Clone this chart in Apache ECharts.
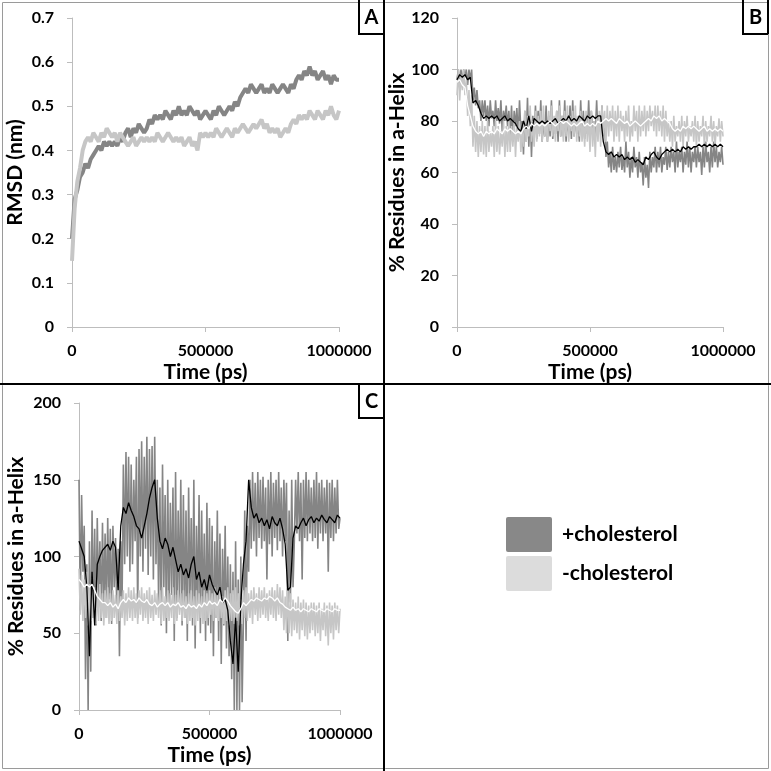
<!DOCTYPE html>
<html><head><meta charset="utf-8">
<script src="https://cdn.jsdelivr.net/npm/echarts@6/dist/echarts.min.js"></script>
<style>html,body{margin:0;padding:0;background:#fff}#c{width:771px;height:771px}</style>
</head><body><div id="c"></div>
<script>
// sampling intervals (ps): raw helicity traces / running averages & RMSD
const rawStep = 5000;
const avgStep = 10000;
const xTicks = [0, 500000, 1000000];

// Panel A: RMSD (nm)
const aPlus = [0.20,0.29,0.31,0.34,0.35,0.37,0.36,0.38,0.39,0.40,
0.41,0.40,0.42,0.41,0.42,0.41,0.42,0.41,0.43,0.42,
0.44,0.45,0.43,0.45,0.44,0.46,0.45,0.44,0.45,0.47,
0.46,0.48,0.47,0.48,0.47,0.49,0.48,0.47,0.49,0.48,
0.50,0.48,0.49,0.48,0.50,0.49,0.48,0.49,0.47,0.48,
0.49,0.48,0.47,0.49,0.48,0.50,0.49,0.48,0.49,0.50,
0.49,0.51,0.50,0.52,0.53,0.54,0.53,0.55,0.54,0.53,
0.54,0.55,0.53,0.54,0.53,0.55,0.54,0.53,0.54,0.55,
0.54,0.53,0.55,0.54,0.56,0.57,0.56,0.58,0.57,0.59,
0.57,0.58,0.56,0.57,0.58,0.56,0.57,0.55,0.57,0.56,0.56];
const aMinus = [0.15,0.27,0.33,0.36,0.40,0.42,0.43,0.42,0.44,0.43,
0.42,0.44,0.43,0.45,0.44,0.43,0.44,0.42,0.44,0.43,
0.42,0.41,0.42,0.43,0.41,0.42,0.43,0.42,0.43,0.42,
0.43,0.42,0.44,0.43,0.42,0.43,0.44,0.43,0.42,0.43,
0.42,0.43,0.41,0.42,0.43,0.41,0.42,0.40,0.44,0.43,
0.44,0.43,0.44,0.43,0.45,0.44,0.43,0.44,0.45,0.44,
0.43,0.45,0.44,0.45,0.46,0.45,0.44,0.45,0.46,0.45,
0.46,0.47,0.45,0.46,0.44,0.45,0.44,0.45,0.43,0.44,
0.45,0.44,0.46,0.47,0.46,0.48,0.47,0.48,0.47,0.49,
0.48,0.47,0.49,0.48,0.47,0.49,0.48,0.50,0.48,0.47,0.49];

// Panel B: % residues in a-helix (raw, every 5000 ps)
const bPlus = [96,100,94,100,95,100,97,100,94,100,96,100,88,93,86,92,85,88,80,88,
82,88,80,86,78,88,81,84,78,88,80,85,79,88,76,84,80,86,78,84,
74,86,72,84,78,85,74,88,76,80,67,84,72,89,70,84,66,82,74,86,
73,84,75,88,72,80,74,86,72,82,74,88,73,80,75,84,72,88,74,82,
74,88,72,80,76,86,73,88,74,82,75,80,72,88,74,84,73,82,75,88,
74,84,76,80,75,88,74,82,76,86,77,80,66,72,62,68,60,70,61,66,
60,68,62,70,61,66,60,72,62,68,58,66,60,70,62,66,58,68,60,64,
55,66,58,63,54,68,60,66,62,70,60,68,62,70,60,66,63,70,61,68,
62,70,64,68,60,72,62,68,64,70,60,68,63,72,62,70,60,68,64,70,
62,70,64,68,59,70,62,72,64,68,60,70,62,72,64,70,62,68,64,70,63];
const bMinus = [90,100,88,98,92,100,90,96,82,92,78,90,70,82,68,80,66,78,68,80,
67,78,66,80,68,76,70,78,66,80,68,78,67,76,70,80,66,78,68,80,
68,78,70,80,66,78,72,80,68,76,70,84,72,82,74,86,72,80,70,84,
72,82,74,84,72,86,74,80,72,84,76,86,74,82,72,84,76,86,74,82,
72,84,74,86,72,82,76,84,74,86,72,82,74,84,72,80,70,84,72,82,
68,84,70,80,66,82,72,84,70,86,74,84,72,86,74,84,76,86,72,84,
74,86,72,84,76,82,72,84,74,86,72,80,74,86,76,84,72,86,74,84,
76,86,74,84,76,86,78,84,76,86,74,86,76,84,74,86,72,84,74,80,
72,80,70,82,72,78,74,80,72,82,70,80,74,82,72,78,74,80,72,82,
70,80,72,78,74,82,70,80,72,78,74,82,72,80,70,78,74,81,72,80,74];
// running averages, every 10000 ps
const bPlusAvg = [96,98,97,98,96,97,87,88,86,83,
81,82,81,82,81,82,80,81,82,80,
81,80,79,77,76,80,77,82,76,81,
80,79,80,79,80,79,80,81,79,80,
81,80,82,80,81,80,82,81,80,82,
81,82,81,82,82,72,68,67,68,66,
67,66,67,65,66,65,66,64,65,64,
63,66,65,67,68,66,65,67,68,69,
68,69,68,69,68,70,69,70,69,70,
70,71,70,71,70,71,70,71,70,71,70];
const bMinusAvg = [95,96,94,93,86,82,78,76,75,76,
74,76,75,76,75,77,76,75,77,76,
77,76,75,76,75,77,78,77,79,78,
79,78,79,78,79,80,79,78,79,80,
79,80,79,78,79,78,79,80,78,79,
78,79,78,80,79,80,81,80,81,80,
79,81,80,79,80,78,79,80,79,78,
79,80,81,80,82,81,82,80,81,80,
79,77,76,77,76,78,77,78,77,78,
77,76,77,78,76,77,76,77,76,77,76];

// Panel C: % residues in a-helix (raw, every 5000 ps)
const cPlus = [150,65,140,90,120,20,95,0,110,25,130,60,118,55,125,70,110,58,122,65,
115,60,125,72,118,56,120,80,112,62,105,35,110,70,160,95,168,100,165,90,
160,95,150,110,165,60,170,100,175,90,165,105,178,88,170,100,172,85,178,95,
150,70,145,55,160,80,140,50,150,65,135,75,145,45,155,60,130,70,150,55,
140,60,130,45,145,70,125,55,150,40,120,65,140,50,130,60,115,45,135,55,
125,50,120,35,110,60,130,45,115,30,105,55,120,40,100,35,95,20,90,0,
110,0,85,0,100,5,60,130,45,120,90,150,105,155,110,148,100,155,112,150,
105,152,110,145,85,150,108,155,100,148,112,150,104,155,110,145,100,150,110,148,
45,130,70,150,80,110,150,115,155,110,148,85,150,112,155,110,150,115,145,110,
150,112,155,105,148,115,150,110,145,115,150,90,148,112,150,110,145,115,150,118,125];
const cMinus = [92,62,88,58,85,60,90,55,82,58,86,60,80,56,78,58,82,60,76,55,
78,60,80,56,76,58,78,60,75,56,80,58,74,60,78,55,76,58,80,60,
78,58,80,60,76,56,78,62,80,58,76,60,78,56,80,60,75,58,78,62,
76,60,78,56,80,58,74,60,78,58,76,60,80,56,75,58,78,62,76,58,
78,60,74,56,76,58,78,60,74,55,78,58,76,60,74,56,78,58,76,60,
78,62,76,58,80,60,76,58,78,60,74,56,78,58,80,55,76,58,78,56,
80,58,76,55,72,56,78,60,80,58,76,60,78,56,80,62,76,58,80,60,
78,62,80,60,76,58,78,62,80,60,78,58,82,62,80,60,78,52,74,50,
78,50,76,48,72,52,70,50,74,46,70,52,72,48,70,46,68,50,70,52,
70,48,68,50,70,45,66,52,70,48,68,42,70,50,68,46,70,52,68,50,66];
// running averages, every 10000 ps
const cPlusAvg = [110,105,100,80,35,90,55,95,100,104,
106,108,104,110,106,78,120,132,128,135,
130,126,120,118,112,120,128,138,145,150,
125,110,105,112,108,100,106,98,90,95,
88,92,86,95,100,85,90,80,85,78,
88,82,78,75,80,70,72,65,45,30,
60,25,70,95,110,150,132,125,128,122,
125,120,124,118,126,122,120,125,118,108,
78,80,112,120,118,122,125,120,124,126,
122,125,123,127,124,122,126,124,122,127,125];
const cMinusAvg = [85,83,80,82,80,82,78,74,72,70,
70,68,70,67,69,66,70,72,70,73,
71,72,70,73,71,70,72,69,68,70,
67,69,70,68,70,67,69,68,70,67,
68,66,69,67,68,66,69,67,70,68,
71,69,70,68,72,70,73,71,68,66,
64,63,66,70,68,70,72,71,73,72,
71,73,72,74,73,71,73,70,69,67,
66,65,67,65,66,64,66,65,64,66,
65,64,66,65,64,66,65,64,66,65,65];

const legendNames = ['+cholesterol', '-cholesterol'];
const panelLabels = ['A', 'B', 'C'];

const DARK = '#858585', LIGHT = '#c6c6c6';
const FONT = 'Lato';
const pair = (arr, step) => arr.map((v, i) => [i * step, v]);

const grids = [
  {left: 72, top: 18, width: 267, height: 309},
  {left: 457, top: 18, width: 266, height: 309},
  {left: 79, top: 403, width: 261, height: 307}
];
const yCfg = [
  {min: 0, max: 0.7, interval: 0.1, name: 'RMSD (nm)', gap: 46},
  {min: 0, max: 120, interval: 20, name: '% Residues in a-Helix', gap: 46},
  {min: 0, max: 200, interval: 50, name: '% Residues in a-Helix', gap: 52}
];
const lbl = {color: '#000', fontWeight: 'bold', fontFamily: FONT, fontSize: 16};
const nameStyle = {color: '#000', fontWeight: 'bold', fontFamily: FONT, fontSize: 21};

const xAxes = grids.map((g, i) => ({
  type: 'value', gridIndex: i, min: 0, max: 1000000, interval: 500000,
  name: 'Time (ps)', nameLocation: 'middle', nameGap: 35, nameTextStyle: nameStyle,
  axisLine: {lineStyle: {color: '#bdbdbd', width: 1}},
  axisTick: {show: true, length: 5, lineStyle: {color: '#bdbdbd'}},
  splitLine: {show: false},
  axisLabel: Object.assign({margin: 16, formatter: v => xTicks.indexOf(v) >= 0 ? String(v) : ''}, lbl)
}));
const yAxes = yCfg.map((c, i) => ({
  type: 'value', gridIndex: i, min: c.min, max: c.max, interval: c.interval,
  name: c.name, nameLocation: 'middle', nameGap: c.gap, nameRotate: 90, nameTextStyle: nameStyle,
  axisLine: {show: true, lineStyle: {color: '#bdbdbd', width: 1}},
  axisTick: {show: true, length: 5, lineStyle: {color: '#bdbdbd'}},
  splitLine: {show: false},
  axisLabel: Object.assign({margin: 18, formatter: i === 0 ? (v => v === 0 ? '0' : v.toFixed(1)) : (v => String(v))}, lbl)
}));

function ln(idx, arr, step, color, width, name) {
  return {type: 'line', name: name, xAxisIndex: idx, yAxisIndex: idx, data: pair(arr, step),
    showSymbol: false, symbol: 'none', animation: false,
    lineStyle: {color: color, width: width}, itemStyle: {color: color}};
}
const series = [
  ln(0, aPlus, avgStep, DARK, 4, legendNames[0]),
  ln(0, aMinus, avgStep, LIGHT, 4, legendNames[1]),
  ln(1, bPlus, rawStep, DARK, 1.6, legendNames[0]),
  ln(1, bMinus, rawStep, LIGHT, 1.6, legendNames[1]),
  ln(1, bPlusAvg, avgStep, '#000', 1.3),
  ln(1, bMinusAvg, avgStep, '#fff', 1.3),
  ln(2, cPlus, rawStep, DARK, 1.6, legendNames[0]),
  ln(2, cMinus, rawStep, LIGHT, 1.6, legendNames[1]),
  ln(2, cPlusAvg, avgStep, '#000', 1.3),
  ln(2, cMinusAvg, avgStep, '#fff', 1.3)
];

const blk = {stroke: '#000', lineWidth: 2};
function boxLabel(x, y, w, h, t) {
  return [
    {type: 'polyline', shape: {points: [[x, y], [x, y + h], [x + w, y + h]]}, style: Object.assign({fill: null}, blk), z: 100},
    {type: 'text', x: x + w / 2, y: y + h / 2 + 1, style: {text: t, fill: '#000', font: 'bold 20px ' + FONT, textAlign: 'center', textVerticalAlign: 'middle'}, z: 100}
  ];
}
const graphic = [
  {type: 'rect', shape: {x: 2.5, y: 2.5, width: 766, height: 766}, style: {fill: null, stroke: '#9a9a9a', lineWidth: 1}, z: 99},
  {type: 'line', shape: {x1: 384, y1: 0, x2: 384, y2: 771}, style: blk, z: 100},
  {type: 'line', shape: {x1: 0, y1: 384, x2: 771, y2: 384}, style: blk, z: 100},
  {type: 'line', shape: {x1: 768, y1: 0, x2: 768, y2: 34}, style: blk, z: 100},
  ...boxLabel(359, 0, 25, 34, panelLabels[0]),
  ...boxLabel(743, 0, 25, 34, panelLabels[1]),
  ...boxLabel(359, 384, 25, 34, panelLabels[2]),
  {type: 'rect', shape: {x: 506, y: 517, width: 46, height: 35, r: 2}, style: {fill: '#888888'}},
  {type: 'rect', shape: {x: 506, y: 556, width: 46, height: 35, r: 2}, style: {fill: '#dcdcdc'}},
  {type: 'text', x: 562, y: 534, style: {text: legendNames[0], fill: '#000', font: 'bold 21px ' + FONT, textVerticalAlign: 'middle'}},
  {type: 'text', x: 562, y: 573, style: {text: legendNames[1], fill: '#000', font: 'bold 21px ' + FONT, textVerticalAlign: 'middle'}}
];

const chart = echarts.init(document.getElementById('c'), null, {renderer: 'canvas'});
chart.setOption({
  animation: false,
  backgroundColor: '#fff',
  grid: grids,
  xAxis: xAxes, yAxis: yAxes, series: series, graphic: graphic
});
</script></body></html>
